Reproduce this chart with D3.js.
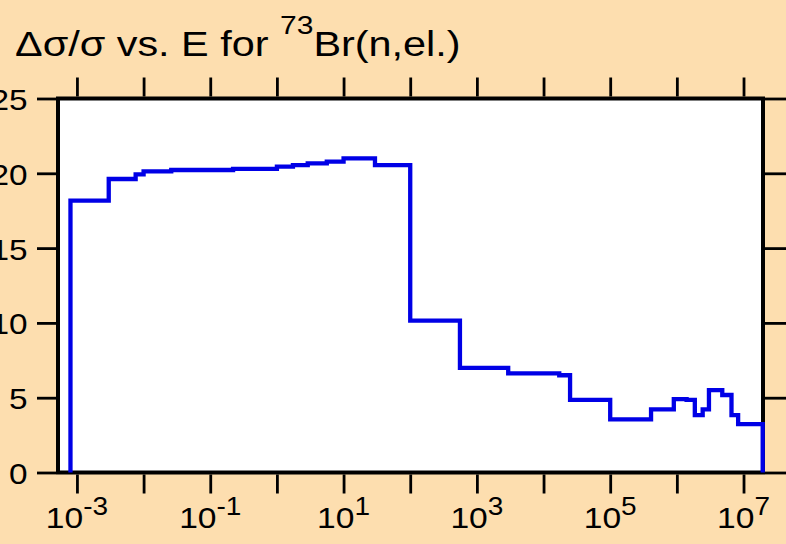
<!DOCTYPE html>
<html>
<head>
<meta charset="utf-8">
<script src="https://cdn.jsdelivr.net/npm/d3@7"></script>
<style>
  html, body { margin: 0; padding: 0; background: #FDDEAF; }
  svg { display: block; }
  text { font-family: "Liberation Sans", Arial, sans-serif; fill: #000; }
</style>
</head>
<body>
<svg id="chart" width="786" height="544"></svg>
<script>
// Group boundaries (eV) and relative uncertainty (%) of the elastic cross section
const binEdges = [8e-4, 3e-3, 7.6e-3, 1e-2, 2.6e-2, 0.22, 1.0, 1.74, 2.9, 5.6, 10, 29.6, 100,
  557, 2950, 17200, 25000, 1e5, 4.1e5, 9e5, 1.4e6, 1.86e6, 2.44e6, 3.03e6, 4.8e6, 6.6e6, 8.3e6, 1.94e7];
const relUncert = [18.17, 19.62, 19.93, 20.13, 20.22, 20.29, 20.44, 20.55, 20.67, 20.78, 21.0, 20.55,
  10.15, 7.0, 6.63, 6.5, 4.85, 3.55, 4.22, 4.91, 4.85, 3.84, 4.22, 5.51, 5.18, 3.84, 3.24];
const xTickExps = [-3, -2, -1, 0, 1, 2, 3, 4, 5, 6, 7];
const xLabelExps = [-3, -1, 1, 3, 5, 7];
const yTicks = [0, 5, 10, 15, 20, 25];

const svg = d3.select("#chart");
const plotL = 58, plotR = 763, plotT = 98.5, plotB = 472.5;

const x = d3.scaleLog().domain([5.2e-4, 1.96e7]).range([plotL, plotR]);
const y = d3.scaleLinear().domain([0, 25]).range([plotB, plotT]);

// Text in a slightly wide face: Liberation Sans stretched horizontally
function wideText(px, py, size, anchor, sx) {
  return svg.append("text")
    .attr("transform", `translate(${px},${py}) scale(${sx},1)`)
    .attr("font-size", size)
    .attr("text-anchor", anchor);
}

// Title
const title = wideText(15, 55.5, 34.5, "start", 1.2);
title.append("tspan").text("\u0394\u03c3/\u03c3 vs. E for ");
title.append("tspan").attr("font-size", 25).attr("dy", -22).text("73");
title.append("tspan").attr("dy", 22).text("Br(n,el.)");

// Plot area
svg.append("rect")
  .attr("x", plotL).attr("y", plotT)
  .attr("width", plotR - plotL).attr("height", plotB - plotT)
  .attr("fill", "#fff").attr("stroke", "#000").attr("stroke-width", 4);

const tickVals = xTickExps.map(e => Math.pow(10, e));

// Axes (ticks outside on all four sides)
const axBottom = svg.append("g").attr("transform", `translate(0,${plotB + 2})`)
  .call(d3.axisBottom(x).tickValues(tickVals).tickSize(19).tickFormat(""));
const axTop = svg.append("g").attr("transform", `translate(0,${plotT - 2})`)
  .call(d3.axisTop(x).tickValues(tickVals).tickSize(19).tickFormat(""));
const axLeft = svg.append("g").attr("transform", `translate(${plotL - 2},0)`)
  .call(d3.axisLeft(y).tickValues(yTicks).tickSize(19).tickFormat(""));
const axRight = svg.append("g").attr("transform", `translate(${plotR + 2},0)`)
  .call(d3.axisRight(y).tickValues(yTicks).tickSize(23).tickFormat(""));
[axBottom, axTop, axLeft, axRight].forEach(g => {
  g.select(".domain").remove();
  g.selectAll(".tick line").attr("stroke", "#000").attr("stroke-width", 2.8);
});

// X tick labels as powers of ten
xLabelExps.forEach(e => {
  const t = wideText(x(Math.pow(10, e)), 528, 30, "middle", 1.12);
  t.append("tspan").text("10");
  t.append("tspan").attr("dy", -13).attr("font-size", 25).text(String(e));
});

// Y tick labels
yTicks.forEach(v => {
  wideText(27.5, y(v) + 11.5, 29, "end", 1.15).text(v);
});

// Step histogram
const pts = [[binEdges[0], 0]];
relUncert.forEach((v, i) => {
  pts.push([binEdges[i], v]);
  pts.push([binEdges[i + 1], v]);
});
pts.push([binEdges[binEdges.length - 1], 0]);

svg.append("path")
  .datum(pts)
  .attr("fill", "none")
  .attr("stroke", "#0000e6")
  .attr("stroke-width", 4.3)
  .attr("stroke-linejoin", "miter")
  .attr("d", d3.line().x(d => x(d[0])).y(d => y(d[1])));
</script>
</body>
</html>
